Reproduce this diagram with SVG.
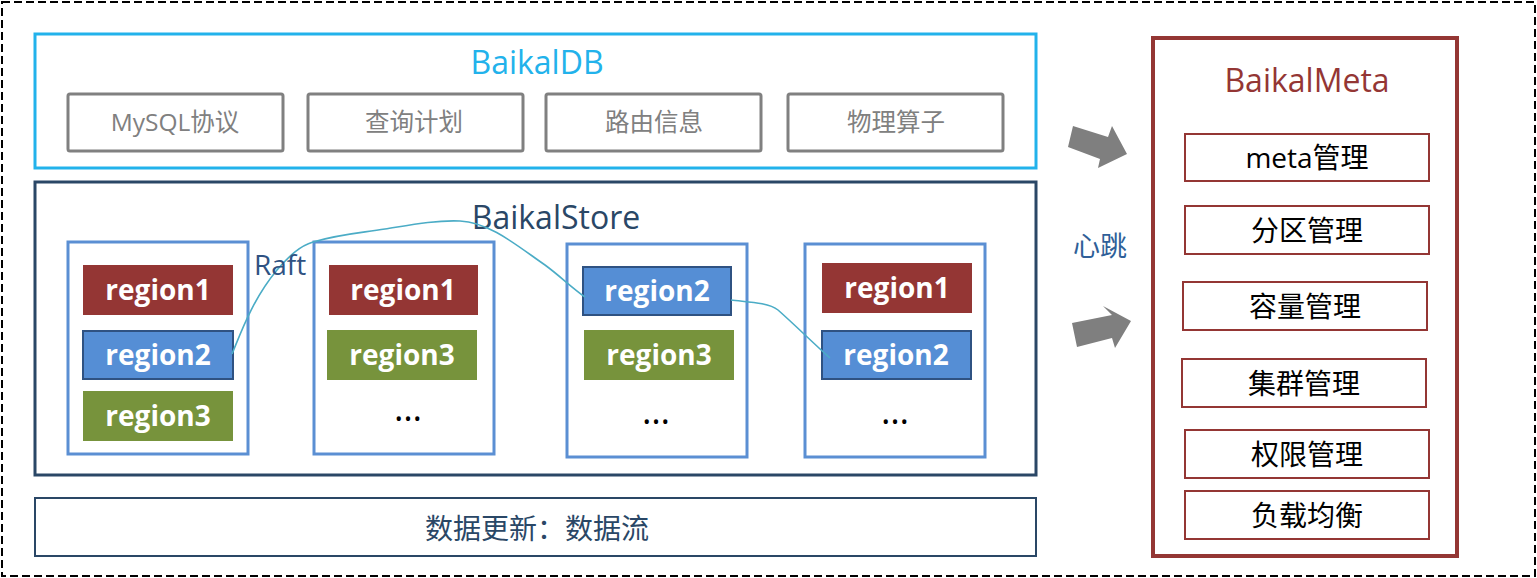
<svg xmlns="http://www.w3.org/2000/svg" width="1537" height="578" viewBox="0 0 1537 578">
<style>
text{font-family:"Open Sans","Noto Sans CJK SC",sans-serif;text-anchor:middle}
.title{font-size:32px}
.gbox{fill:#fff;stroke:#808080;stroke-width:3}
.gtxt{font-size:24.5px;fill:#808080}
.node{fill:#fff;stroke:#5B8FD3;stroke-width:3}
.r1{fill:#943634}
.r2{fill:#558ED5;stroke:#2F5282;stroke-width:2}
.r3{fill:#77933C}
.rt{font-size:28px;font-weight:bold;fill:#fff}
.dots{font-size:36px;fill:#000}
.mbox{fill:#fff;stroke:#943634;stroke-width:2}
.mtxt{font-size:28px;fill:#000}
.link{fill:none;stroke:#4BACC6;stroke-width:1.6}
.arrow{fill:#7F7F7F}
</style>
<rect x="2" y="2" width="1533" height="574" fill="none" stroke="#000" stroke-width="2" stroke-dasharray="8,4"/>

<g id="baikaldb">
<rect x="35" y="34" width="1001" height="134" fill="#fff" stroke="#22B2EB" stroke-width="3"/>
<text class="title" x="537" y="74" fill="#22B2EB">BaikalDB</text>
</g>
<g id="mysql"><rect class="gbox" x="68" y="94" width="215" height="57" rx="2"/><text class="gtxt" x="175" y="131">MySQL协议</text></g>
<g id="plan"><rect class="gbox" x="308" y="94" width="215" height="57" rx="2"/><text class="gtxt" x="414" y="131">查询计划</text></g>
<g id="route"><rect class="gbox" x="546" y="94" width="215" height="57" rx="2"/><text class="gtxt" x="654" y="131">路由信息</text></g>
<g id="phys"><rect class="gbox" x="788" y="94" width="215" height="57" rx="2"/><text class="gtxt" x="896" y="131">物理算子</text></g>

<g id="baikalstore">
<rect x="35" y="182" width="1001" height="293" fill="#fff" stroke="#2A4766" stroke-width="3"/>
<text class="title" x="556" y="229" fill="#2A4766">BaikalStore</text>
</g>

<g id="store1">
<rect class="node" x="68" y="242" width="180" height="212"/>
<rect class="r1" x="83" y="265" width="150" height="50"/><text class="rt" x="158" y="300">region1</text>
<rect class="r2" x="83" y="331" width="150" height="48"/><text class="rt" x="158" y="365">region2</text>
<rect class="r3" x="83" y="391" width="150" height="50"/><text class="rt" x="158" y="426">region3</text>
</g>
<g id="store2">
<rect class="node" x="314" y="242" width="180" height="212"/>
<rect class="r1" x="329" y="265" width="149" height="50"/><text class="rt" x="403" y="300">region1</text>
<rect class="r3" x="327" y="330" width="150" height="50"/><text class="rt" x="402" y="365">region3</text>
<text class="dots" x="408" y="421">…</text>
</g>
<g id="store3">
<rect class="node" x="567" y="244" width="180" height="213"/>
<rect class="r2" x="583" y="267" width="148" height="48"/><text class="rt" x="657" y="301">region2</text>
<rect class="r3" x="584" y="330" width="150" height="50"/><text class="rt" x="659" y="365">region3</text>
<text class="dots" x="656" y="424">…</text>
</g>
<g id="store4">
<rect class="node" x="805" y="244" width="180" height="213"/>
<rect class="r1" x="822" y="263" width="150" height="50"/><text class="rt" x="897" y="298">region1</text>
<rect class="r2" x="822" y="331" width="149" height="48"/><text class="rt" x="896" y="365">region2</text>
<text class="dots" x="895" y="424">…</text>
</g>

<g id="baikalmeta">
<rect x="1153" y="38" width="304" height="518" fill="#fff" stroke="#943634" stroke-width="4"/>
<text class="title" x="1307" y="92" fill="#943634">BaikalMeta</text>
</g>
<g id="m1"><rect class="mbox" x="1185" y="134" width="244" height="47"/><text class="mtxt" x="1307" y="168">meta管理</text></g>
<g id="m2"><rect class="mbox" x="1185" y="206" width="244" height="48"/><text class="mtxt" x="1307" y="241">分区管理</text></g>
<g id="m3"><rect class="mbox" x="1183" y="282" width="244" height="48"/><text class="mtxt" x="1305" y="317">容量管理</text></g>
<g id="m4"><rect class="mbox" x="1182" y="359" width="244" height="48"/><text class="mtxt" x="1304" y="394">集群管理</text></g>
<g id="m5"><rect class="mbox" x="1185" y="430" width="244" height="48"/><text class="mtxt" x="1307" y="465">权限管理</text></g>
<g id="m6"><rect class="mbox" x="1185" y="491" width="244" height="48"/><text class="mtxt" x="1307" y="526">负载均衡</text></g>

<g id="dataflow">
<rect x="35" y="498" width="1001" height="58" fill="#fff" stroke="#2A4766" stroke-width="2"/>
<text x="537" y="539" font-size="28" fill="#2A4766">数据更新：数据流</text>
</g>

<g id="connectors">
<path class="link" d="M232,354 C240,335 252,300 277,270 C290,255 300,246 313,242 C340,234 360,233 385,229 C410,225 435,220 460,221 C490,222 520,248 545,265 C560,276 572,288 585,297"/>
<path class="link" d="M731,300 C745,302 768,302 778,310 C795,325 812,342 830,358"/>
<text x="280" y="275" font-family="Liberation Sans, sans-serif" font-size="28" fill="#2F5282">Raft</text>
<polygon class="arrow" points="1068,147 1073,126 1108,137 1112,126 1127,154 1098,168 1100,159"/>
<polygon class="arrow" points="1072,323 1112,315 1103,306 1131,321 1115,348 1112,338 1077,347"/>
<text x="1100" y="256" font-size="27" fill="#2F5F98">心跳</text>
</g>
</svg>
